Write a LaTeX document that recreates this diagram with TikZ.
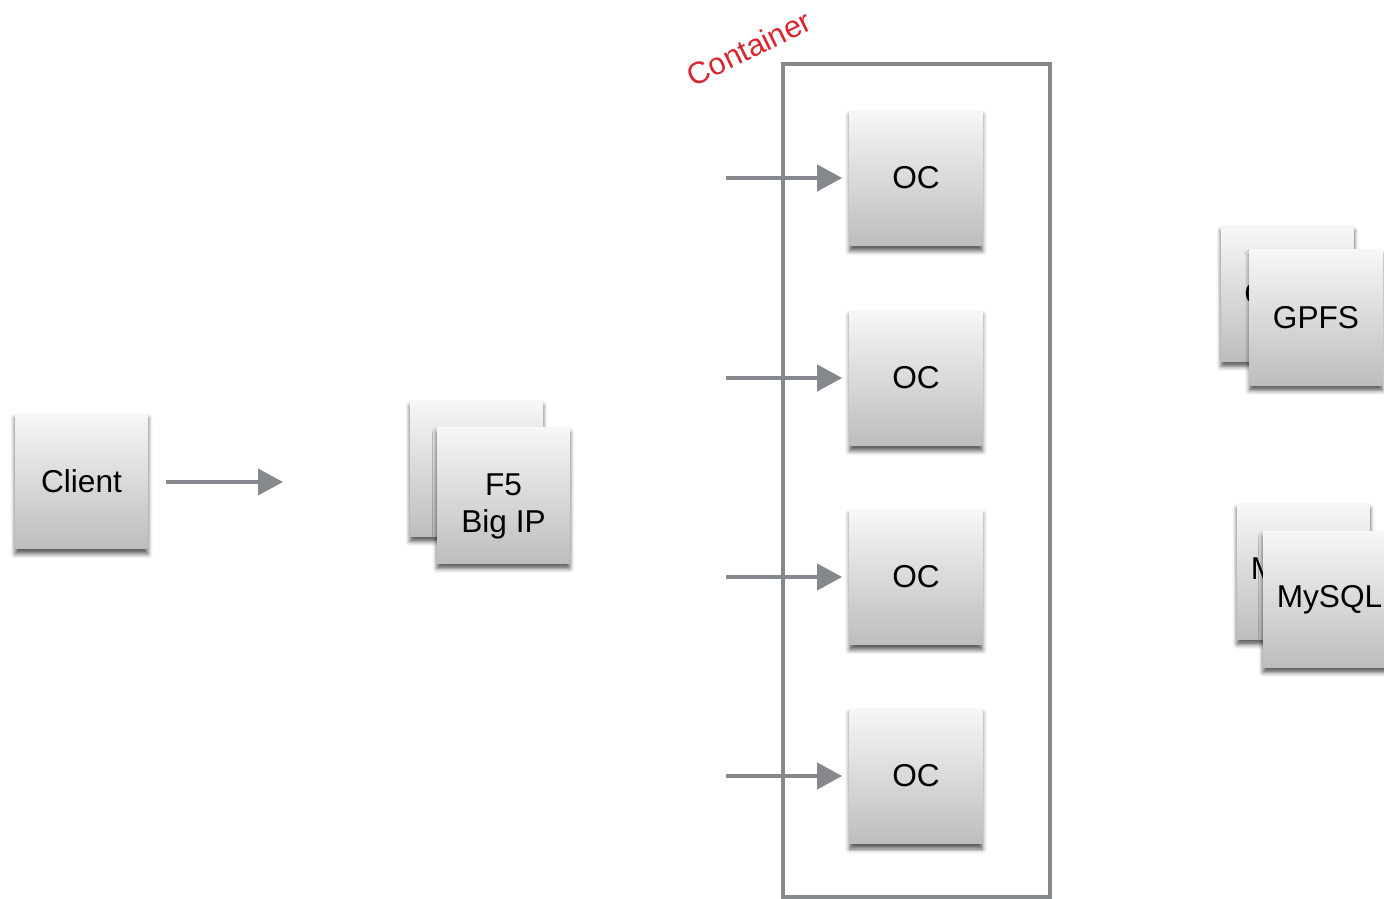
\documentclass[tikz,border=0pt]{standalone}
\usepackage{fontspec}
\setmainfont{Liberation Sans}
\usetikzlibrary{arrows.meta,shadows.blur}
\definecolor{lgray}{HTML}{85888C}
\definecolor{boxtop}{HTML}{F7F7F7}
\definecolor{boxbot}{HTML}{BDBDBD}
\definecolor{lblred}{HTML}{D7262E}
\tikzset{
  card/.style={minimum width=2.66cm, minimum height=2.72cm, inner sep=0pt,
    top color=boxtop, bottom color=boxbot, align=center,
    font=\fontsize{18}{21}\selectfont,
    blur shadow={shadow xshift=0pt, shadow yshift=-0.1cm, shadow blur radius=0.09cm, shadow opacity=65}},
  flow/.style={draw=lgray, line width=0.08cm, -{Triangle[length=0.5cm, width=0.52cm]}},
  frame/.style={draw=lgray, line width=0.07cm}
}
\begin{document}
\begin{tikzpicture}[x=0.02cm, y=-0.02cm]
\useasboundingbox (0,0) rectangle (1384,899);
% container frame
\draw[frame] (783,64) rectangle (1050,897);
\node[text=lblred, rotate=26, font=\fontsize{17.5}{20}\selectfont, inner sep=0pt] (clabel) at (749,48) {Container};
% client
\node[card] (client) at (81.5,481) {Client};
\coordinate (carrowend) at (283,482);
\draw[flow, shorten <=18*0.02cm] (client.east |- carrowend) -- (carrowend);
% F5
\node[card] (f5back) at (476.5,468.5) {};
\node[card, text depth=0pt] (f5) at (503.5,495.5) {\raisebox{0.14cm}{\begin{tabular}{@{}c@{}}F5\\[0pt]Big IP\end{tabular}}};
% OCs
\foreach \i/\y in {1/178,2/378,3/577,4/776}{
  \node[card] (oc\i) at (916,\y) {OC};
  \coordinate (src\i) at (726,\y);
  \draw[flow, shorten >=0.14cm] (src\i) -- (oc\i.west);
}
% GPFS
\node[card] (gpfsback) at (1287.5,293.5) {GPFS};
\node[card] (gpfs) at (1316,317.5) {GPFS};
% MySQL
\node[card] (mysqlback) at (1303.5,571.5) {MySQL};
\node[card] (mysql) at (1329.5,599.5) {MySQL};
\end{tikzpicture}
\end{document}
